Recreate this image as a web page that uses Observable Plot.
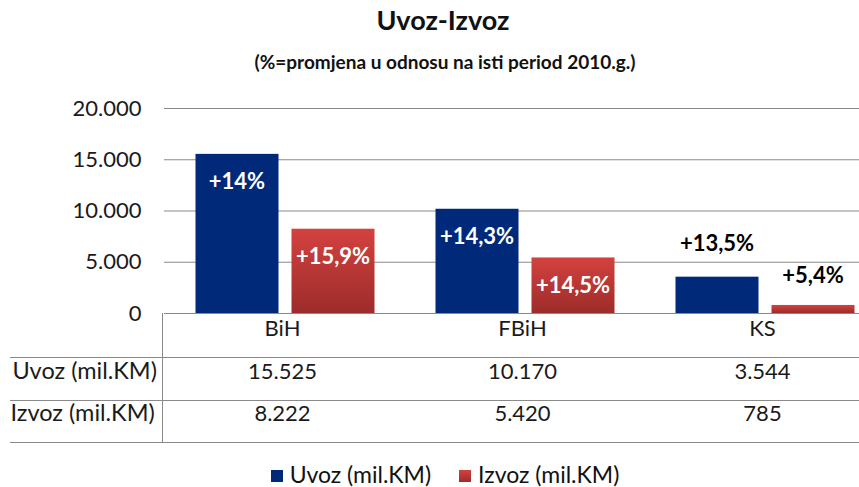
<!DOCTYPE html>
<html>
<head>
<meta charset="utf-8">
<script src="https://cdn.jsdelivr.net/npm/d3@7"></script>
<script src="https://cdn.jsdelivr.net/npm/@observablehq/plot@0.6"></script>
<style>
html, body { margin: 0; padding: 0; background: #fff; overflow: hidden; }
#wrap { position: relative; width: 859px; height: 487px; overflow: hidden; font-family: Lato, "Liberation Sans", sans-serif; color: #111; }
#chart { position: absolute; left: 0; top: 0; }
#title { position: absolute; left: 0; width: 886px; top: 4px; line-height: 32px; text-align: center; font-weight: bold; font-size: 27px; }
#subtitle { position: absolute; left: 0; width: 890px; top: 51px; line-height: 22px; text-align: center; font-weight: bold; font-size: 19px; }
#legend { position: absolute; left: 0; width: 890px; top: 462px; line-height: 24px; text-align: center; font-size: 23px; white-space: nowrap; }
#legend .item { display: inline-block; margin: 0 14px; }
#legend .sw { display: inline-block; width: 12px; height: 12px; margin-right: 7px; vertical-align: 1px; }
</style>
</head>
<body>
<div id="wrap">
  <div id="chart"></div>
  <div id="title"></div>
  <div id="subtitle"></div>
  <div id="legend"></div>
</div>
<script>
// ---- data ----
const titleText = "Uvoz-Izvoz";
const subtitleText = "(%=promjena u odnosu na isti period 2010.g.)";
const categories = ["BiH", "FBiH", "KS"];
const seriesNames = ["Uvoz (mil.KM)", "Izvoz (mil.KM)"];
const uvoz = [15525, 10170, 3544];
const izvoz = [8222, 5420, 785];
const uvozPct = ["+14%", "+14,3%", "+13,5%"];
const izvozPct = ["+15,9%", "+14,5%", "+5,4%"];
const yTicks = [0, 5000, 10000, 15000, 20000];
const seriesColors = ["#00297a", "#c23633"];

// ---- build ----
const rows = categories.map((c, i) => ({
  category: c, uvoz: uvoz[i], izvoz: izvoz[i], uvozPct: uvozPct[i], izvozPct: izvozPct[i]
}));
const fmt = d3.formatLocale({decimal: ",", thousands: ".", grouping: [3], currency: ["", ""]}).format(",d");

const gridColor = "#8a8a8a";
const textColor = "#1a1a1a";
const inside = 4000;

const chart = Plot.plot({
  width: 859,
  height: 487,
  marginLeft: 164,
  marginRight: 0,
  marginTop: 108,
  marginBottom: 174,
  style: {fontFamily: "Lato, 'Liberation Sans', sans-serif", fontSize: "22px", color: textColor, background: "transparent"},
  x: {domain: categories, range: [162, 882], padding: 0, axis: null},
  y: {domain: [0, 20000], ticks: yTicks, tickFormat: fmt, tickSize: 0, tickPadding: 23, label: null},
  marks: [
    Plot.ruleY(yTicks, {stroke: gridColor, strokeWidth: 1}),
    Plot.barY(rows, {x: "category", y: "uvoz", fill: seriesColors[0], insetLeft: 33.5, insetRight: 123.5}),
    Plot.barY(rows, {x: "category", y: "izvoz", fill: "url(#izvozGrad)", insetLeft: 129.5, insetRight: 27.5}),
    // percentage labels
    Plot.text(rows, {filter: d => d.uvoz > inside, x: "category", y: "uvoz", text: "uvozPct", dx: -45.5, dy: 28, fill: "white", fontWeight: "bold", fontSize: 22}),
    Plot.text(rows, {filter: d => d.uvoz <= inside, x: "category", y: "uvoz", text: "uvozPct", dx: -45.5, dy: -33, fill: "black", fontWeight: "bold", fontSize: 22}),
    Plot.text(rows, {filter: d => d.izvoz > inside, x: "category", y: "izvoz", text: "izvozPct", dx: 50.5, dy: 28, fill: "white", fontWeight: "bold", fontSize: 22}),
    Plot.text(rows, {filter: d => d.izvoz <= inside, x: "category", y: "izvoz", text: "izvozPct", dx: 50.5, dy: -30, fill: "black", fontWeight: "bold", fontSize: 22}),
    // data table
    Plot.ruleY([0], {dy: 44, insetLeft: -154, stroke: gridColor}),
    Plot.ruleY([0], {dy: 87, insetLeft: -154, stroke: gridColor}),
    Plot.ruleY([0], {dy: 129, insetLeft: -154, stroke: gridColor}),
    Plot.ruleX([categories[0]], {x: d => d, dx: -120, insetTop: 205, insetBottom: -129, stroke: gridColor}),
    Plot.text(categories, {x: d => d, frameAnchor: "bottom", dy: 22, text: d => d, fill: textColor}),
    Plot.text(rows, {x: "category", frameAnchor: "bottom", dy: 65, text: d => fmt(d.uvoz), fill: textColor}),
    Plot.text(rows, {x: "category", frameAnchor: "bottom", dy: 107, text: d => fmt(d.izvoz), fill: textColor}),
    Plot.text([seriesNames[0]], {frameAnchor: "bottom-left", dx: -152, dy: 65, textAnchor: "start", text: d => d, fill: textColor, fontSize: 23.5}),
    Plot.text([seriesNames[1]], {frameAnchor: "bottom-left", dx: -154, dy: 107, textAnchor: "start", text: d => d, fill: textColor, fontSize: 23.5})
  ]
});

const svg = chart.tagName.toLowerCase() === "svg" ? chart : chart.querySelector("svg");
d3.select(svg).insert("defs", ":first-child").html(
  '<linearGradient id="izvozGrad" x1="0" y1="0" x2="0" y2="1">' +
  '<stop offset="0" stop-color="#d3423f"/><stop offset="1" stop-color="#9c2c2a"/></linearGradient>'
);
document.getElementById("chart").appendChild(chart);

document.getElementById("title").textContent = titleText;
document.getElementById("subtitle").textContent = subtitleText;
const legend = d3.select("#legend");
seriesNames.forEach((name, i) => {
  const item = legend.append("span").attr("class", "item");
  item.append("span").attr("class", "sw").style("background", i === 0 ? seriesColors[0] : "linear-gradient(#d3423f, #9c2c2a)");
  item.append("span").text(name);
});
</script>
</body>
</html>
